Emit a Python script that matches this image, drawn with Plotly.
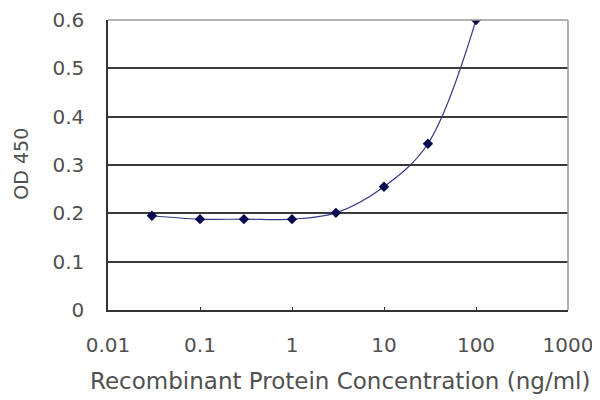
import plotly.graph_objects as go

conc = [0.03, 0.1, 0.3, 1, 3, 10, 30, 100]
od450 = [0.195, 0.188, 0.188, 0.188, 0.201, 0.255, 0.344, 0.600]
x_ticks = [0.01, 0.1, 1, 10, 100, 1000]
x_tick_labels = ["0.01", "0.1", "1", "10", "100", "1000"]
y_ticks = [0, 0.1, 0.2, 0.3, 0.4, 0.5, 0.6]
y_tick_labels = ["0", "0.1", "0.2", "0.3", "0.4", "0.5", "0.6"]

txt = "#505050"
fam = "DejaVu Sans, Verdana, sans-serif"

fig = go.Figure()
fig.add_trace(go.Scatter(
    x=conc, y=od450, mode="lines+markers",
    line=dict(color="#3a3a8c", width=1.2, shape="spline", smoothing=1.0),
    marker=dict(symbol="diamond", size=8, color="#0a0a50"),
    showlegend=False,
))

fig.update_layout(
    width=600, height=400,
    margin=dict(l=100, r=40, t=12, b=98),
    paper_bgcolor="white", plot_bgcolor="white",
    font=dict(family=fam, size=20, color=txt),
    xaxis=dict(
        type="log", range=[-2, 3], automargin=False,
        tickvals=x_ticks, ticktext=x_tick_labels,
        showgrid=False, zeroline=False,
        showline=True, linecolor="#333333", linewidth=1.5,
        ticks="inside", ticklen=3, tickcolor="#333333",
        ticklabelstandoff=16,
        tickfont=dict(family=fam, size=20, color=txt),
    ),
    yaxis=dict(
        range=[0, 0.6], automargin=False,
        tickvals=y_ticks, ticktext=y_tick_labels,
        showgrid=True, gridcolor="#3a3a3a", gridwidth=1.5,
        zeroline=False,
        showline=True, linecolor="#333333", linewidth=1.5,
        ticks="", ticklen=0,
        ticklabelstandoff=18,
        tickfont=dict(family=fam, size=20, color=txt),
    ),
    shapes=[
        dict(type="line", xref="paper", yref="paper", x0=0, x1=1, y0=1, y1=1,
             line=dict(color="#999999", width=1.5)),
        dict(type="line", xref="paper", yref="paper", x0=1, x1=1, y0=0, y1=1,
             line=dict(color="#999999", width=1.5)),
    ],
    annotations=[
        dict(text="Recombinant Protein Concentration (ng/ml)", xref="paper", yref="paper",
             x=0.504, y=-0.245, xanchor="center", yanchor="middle", showarrow=False,
             font=dict(family=fam, size=23, color=txt)),
        dict(text="OD 450", xref="paper", yref="paper",
             x=-0.188, y=0.503, xanchor="center", yanchor="middle", showarrow=False,
             textangle=-90, font=dict(family=fam, size=19, color=txt)),
    ],
)

fig.write_html("out.html")
